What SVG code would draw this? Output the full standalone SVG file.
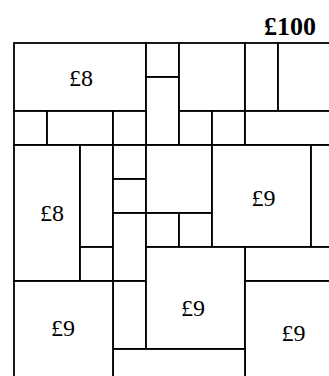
<svg xmlns="http://www.w3.org/2000/svg" width="329" height="376" viewBox="0 0 329 376">
<style>
.c{fill:#fff;stroke:#000;stroke-width:1.8}
</style>
<rect width="329" height="376" fill="#fff"/>
<text x="316" y="35" font-family="Liberation Serif, serif" font-size="26" font-weight="bold" text-anchor="end">£100</text>
<g id="cells" font-family="Liberation Serif, serif" font-size="24" text-anchor="middle">
<g id="n1"><rect class="c" x="14" y="43" width="132" height="68"/><text x="81" y="86">£8</text></g>
<g id="n2"><rect class="c" x="146" y="43" width="33" height="34"/></g>
<g id="n3"><rect class="c" x="146" y="77" width="33" height="68"/></g>
<g id="n4"><rect class="c" x="179" y="43" width="66" height="68"/></g>
<g id="n5"><rect class="c" x="245" y="43" width="33" height="68"/></g>
<g id="n6"><rect class="c" x="278" y="43" width="66" height="68"/></g>
<g id="n7"><rect class="c" x="14" y="111" width="33" height="34"/></g>
<g id="n8"><rect class="c" x="47" y="111" width="66" height="34"/></g>
<g id="n9"><rect class="c" x="113" y="111" width="33" height="34"/></g>
<g id="n10"><rect class="c" x="179" y="111" width="33" height="34"/></g>
<g id="n11"><rect class="c" x="212" y="111" width="33" height="34"/></g>
<g id="n12"><rect class="c" x="245" y="111" width="99" height="34"/></g>
<g id="n13"><rect class="c" x="14" y="145" width="66" height="136"/><text x="52" y="221">£8</text></g>
<g id="n14"><rect class="c" x="80" y="145" width="33" height="102"/></g>
<g id="n15"><rect class="c" x="80" y="247" width="33" height="34"/></g>
<g id="n16"><rect class="c" x="113" y="145" width="33" height="34"/></g>
<g id="n17"><rect class="c" x="113" y="179" width="33" height="34"/></g>
<g id="n18"><rect class="c" x="113" y="213" width="33" height="68"/></g>
<g id="n19"><rect class="c" x="113" y="281" width="33" height="68"/></g>
<g id="n20"><rect class="c" x="146" y="145" width="66" height="68"/></g>
<g id="n21"><rect class="c" x="146" y="213" width="33" height="34"/></g>
<g id="n22"><rect class="c" x="179" y="213" width="33" height="34"/></g>
<g id="n23"><rect class="c" x="212" y="145" width="99" height="102"/><text x="263.5" y="206">£9</text></g>
<g id="n24"><rect class="c" x="311" y="145" width="33" height="102"/></g>
<g id="n25"><rect class="c" x="245" y="247" width="99" height="34"/></g>
<g id="n26"><rect class="c" x="146" y="247" width="99" height="102"/><text x="193" y="316">£9</text></g>
<g id="n27"><rect class="c" x="245" y="281" width="99" height="102"/><text x="293.5" y="341">£9</text></g>
<g id="n28"><rect class="c" x="113" y="349" width="132" height="34"/></g>
<g id="n29"><rect class="c" x="14" y="281" width="99" height="102"/><text x="63" y="336">£9</text></g>
</g>
<g id="connectors"/>
</svg>
